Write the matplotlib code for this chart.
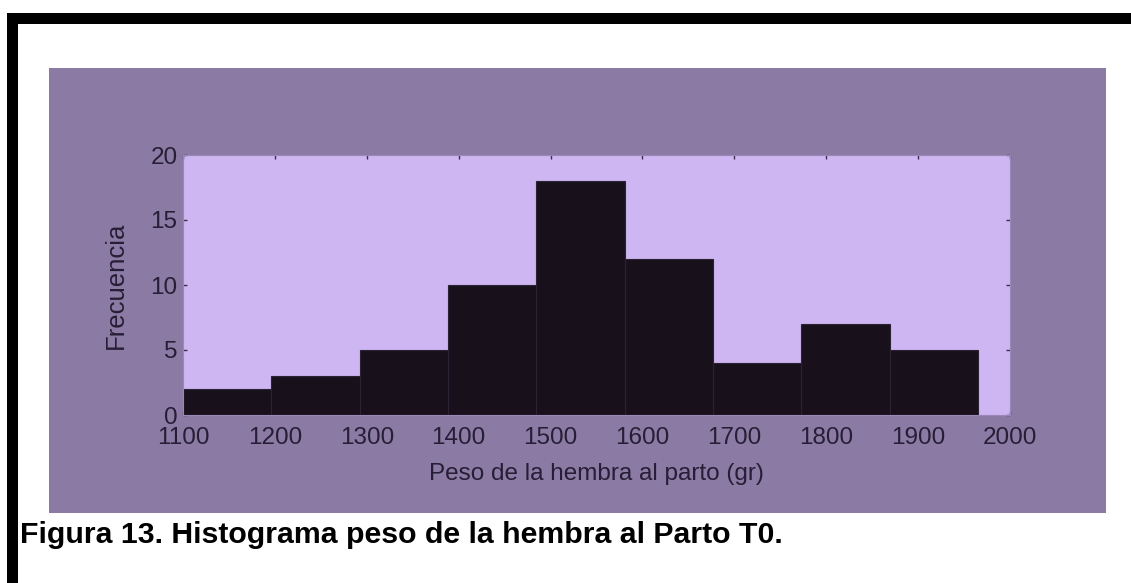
import numpy as np
import matplotlib
matplotlib.use("Agg")
import matplotlib.pyplot as plt
from matplotlib.patches import Rectangle

# Histogram data: counts per bin and range of the weights (g)
counts = [2, 3, 5, 10, 18, 12, 4, 7, 5]
weight_min = 1100
weight_max = 1965
x_ticks = [1100, 1200, 1300, 1400, 1500, 1600, 1700, 1800, 1900, 2000]
y_ticks = [0, 5, 10, 15, 20]
x_label = "Peso de la hembra al parto (gr)"
y_label = "Frecuencia"
caption = "Figura 13. Histograma peso de la hembra al Parto T0."

edges = np.linspace(weight_min, weight_max, len(counts) + 1)

W, H = 1131, 583
fig = plt.figure(figsize=(W / 100, H / 100), dpi=100)
fig.patch.set_facecolor("white")

panel_color = "#8b7ba4"
axes_color = "#cdb6f1"
bar_color = "#18111c"
text_color = "#261d36"
sans = ["Liberation Sans", "DejaVu Sans"]

# Purple figure panel behind the axes
fig.add_artist(Rectangle((49 / W, 1 - 513 / H), (1106 - 49) / W, (513 - 68) / H,
                         transform=fig.transFigure, facecolor=panel_color,
                         edgecolor="none", zorder=0))

# Black page frame (top and left)
fig.add_artist(Rectangle((7 / W, 0), 11 / W, 1 - 13 / H, transform=fig.transFigure,
                         facecolor="black", edgecolor="none", zorder=1))
fig.add_artist(Rectangle((7 / W, 1 - 24 / H), 1, 11 / H, transform=fig.transFigure,
                         facecolor="black", edgecolor="none", zorder=1))

ax = fig.add_axes([183 / W, 1 - 415 / H, (1010 - 183) / W, (415 - 155) / H])
ax.set_facecolor(axes_color)
ax.bar(edges[:-1], counts, width=np.diff(edges), align="edge",
       color=bar_color, edgecolor="#2b2233", linewidth=0.8, zorder=2)

ax.set_xlim(1100, 2000)
ax.set_ylim(0, 20)
ax.set_xticks(x_ticks)
ax.set_yticks(y_ticks)
ax.tick_params(direction="in", length=3, width=1, color="#3a2f4d",
               top=True, right=True, labelcolor=text_color)
ax.tick_params(axis="x", pad=9)
ax.tick_params(axis="y", pad=4)
for lab in ax.get_xticklabels() + ax.get_yticklabels():
    lab.set_family(sans)
    lab.set_fontsize(17.5)
for sp in ax.spines.values():
    sp.set_color("#9a88b8")
    sp.set_linewidth(0.8)

ax.set_xlabel(x_label, family=sans, fontsize=17.5, color=text_color, labelpad=10)
ax.set_ylabel(y_label, family=sans, fontsize=18.5, color=text_color, labelpad=16)

fig.text(20 / W, 1 - 543 / H, caption, family=sans,
         fontweight="bold", fontsize=21.8, color="black", ha="left", va="baseline")

fig.savefig("out.png", dpi=100, facecolor="white")
